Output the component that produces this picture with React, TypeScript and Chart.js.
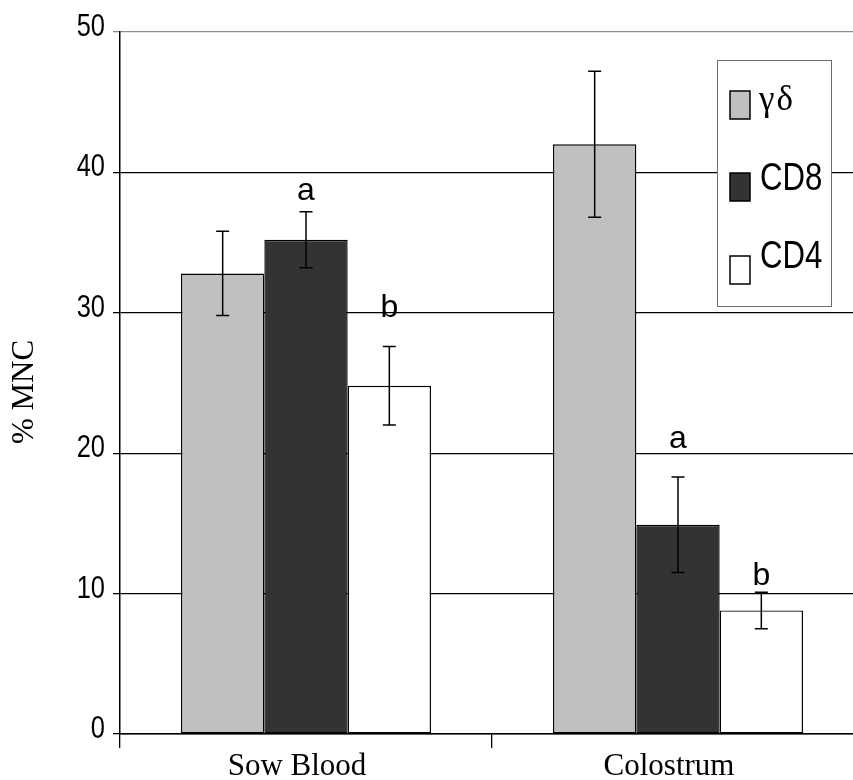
import React, { useEffect, useRef } from 'react';
import { Chart, registerables } from 'chart.js';

Chart.register(...registerables);

// Groups and cell types
const categories = ['Sow Blood', 'Colostrum'];
const seriesNames = ['γδ', 'CD8', 'CD4'];

// Mean % of mononuclear cells and their error (±)
const gammaDelta = [32.8, 42.0];
const cd8 = [35.2, 14.9];
const cd4 = [24.8, 8.8];
const gammaDeltaErr = [3.0, 5.2];
const cd8Err = [2.0, 3.4];
const cd4Err = [2.8, 1.3];

// Value axis ticks
const yTicks = [0, 10, 20, 30, 40, 50];
const yTitle = '% MNC';

// Significance letters: series index, group index, letter, baseline value
const sigSeries = [1, 2, 1, 2];
const sigGroup = [0, 0, 1, 1];
const sigText = ['a', 'b', 'a', 'b'];
const sigAt = [38.0, 29.7, 20.4, 10.6];

const fills = ['#c0c0c0', '#333333', '#ffffff'];
const SANS = "'Liberation Sans', Arial, sans-serif";
const SERIF = "'Liberation Serif', 'Times New Roman', serif";

const errors = [gammaDeltaErr, cd8Err, cd4Err];

// Draws text squeezed horizontally, like a narrow sans face
function narrowText(ctx: any, text: string, x: number, y: number, size: number, align: string, squeeze: number) {
  ctx.save();
  ctx.translate(x, y);
  ctx.scale(squeeze, 1);
  ctx.font = `${size}px ${SANS}`;
  ctx.textAlign = align;
  ctx.textBaseline = 'alphabetic';
  ctx.fillText(text, 0, 0);
  ctx.restore();
}

const axisTextPlugin = {
  id: 'axisText',
  afterDraw(chart: any) {
    const { ctx } = chart;
    const y = chart.scales.y;
    ctx.save();
    ctx.fillStyle = '#000';
    yTicks.forEach((v) => {
      narrowText(ctx, String(v), 105, y.getPixelForValue(v) + 4, 31, 'right', 0.82);
    });
    ctx.translate(25, 392);
    ctx.rotate(-Math.PI / 2);
    ctx.font = `31px ${SERIF}`;
    ctx.textAlign = 'center';
    ctx.textBaseline = 'middle';
    ctx.fillText(yTitle, 0, 0);
    ctx.restore();
  },
};

const errorBarPlugin = {
  id: 'errorBars',
  afterDatasetsDraw(chart: any) {
    const { ctx } = chart;
    const y = chart.scales.y;
    ctx.save();
    ctx.strokeStyle = '#000';
    ctx.lineWidth = 1.5;
    chart.data.datasets.forEach((ds: any, i: number) => {
      const meta = chart.getDatasetMeta(i);
      meta.data.forEach((bar: any, j: number) => {
        const v = ds.data[j];
        const e = errors[i][j];
        const top = y.getPixelForValue(v + e);
        const bot = y.getPixelForValue(v - e);
        const x = bar.x;
        const cap = 6.5;
        ctx.beginPath();
        ctx.moveTo(x, top);
        ctx.lineTo(x, bot);
        ctx.moveTo(x - cap, top);
        ctx.lineTo(x + cap, top);
        ctx.moveTo(x - cap, bot);
        ctx.lineTo(x + cap, bot);
        ctx.stroke();
      });
    });
    // significance letters above bars
    ctx.fillStyle = '#000';
    ctx.font = `32px ${SANS}`;
    ctx.textAlign = 'center';
    ctx.textBaseline = 'alphabetic';
    sigText.forEach((t, k) => {
      const bar = chart.getDatasetMeta(sigSeries[k]).data[sigGroup[k]];
      ctx.fillText(t, bar.x, y.getPixelForValue(sigAt[k]));
    });
    ctx.restore();
  },
};

const legendBoxPlugin = {
  id: 'legendBox',
  afterDraw(chart: any) {
    const { ctx } = chart;
    ctx.save();
    const bx = 717, by = 60, bw = 114, bh = 246;
    ctx.fillStyle = '#fff';
    ctx.fillRect(bx, by, bw, bh);
    ctx.strokeStyle = '#6e6e6e';
    ctx.lineWidth = 1;
    ctx.strokeRect(bx + 0.5, by + 0.5, bw, bh);
    const rowTop = [91, 173, 256];
    const baselines = [110, 190, 268];
    seriesNames.forEach((name, i) => {
      ctx.fillStyle = fills[i];
      ctx.fillRect(730, rowTop[i], 20, 28);
      ctx.strokeStyle = '#000';
      ctx.lineWidth = 1.5;
      ctx.strokeRect(730, rowTop[i], 20, 28);
      ctx.fillStyle = '#000';
      if (i === 0) {
        ctx.font = `35px ${SERIF}`;
        ctx.textAlign = 'left';
        ctx.textBaseline = 'alphabetic';
        (ctx as any).letterSpacing = '2px';
        ctx.fillText(name, 759, baselines[i]);
        (ctx as any).letterSpacing = '0px';
      } else {
        narrowText(ctx, name, 760, baselines[i], 38, 'left', 0.82);
      }
    });
    ctx.restore();
  },
};

export default function App() {
  const ref = useRef<HTMLCanvasElement | null>(null);

  useEffect(() => {
    if (!ref.current) return;
    const chart = new Chart(ref.current, {
      type: 'bar',
      data: {
        labels: categories,
        datasets: [
          { label: seriesNames[0], data: gammaDelta, backgroundColor: fills[0] },
          { label: seriesNames[1], data: cd8, backgroundColor: fills[1] },
          { label: seriesNames[2], data: cd4, backgroundColor: fills[2] },
        ].map((d) => ({
          ...d,
          borderColor: '#000',
          borderWidth: 1.4,
          borderSkipped: false,
          categoryPercentage: 0.672,
          barPercentage: 1.0,
        })),
      },
      options: {
        animation: false,
        responsive: false,
        maintainAspectRatio: false,
        layout: { padding: { top: 32, left: 0, right: 0, bottom: 0 } },
        plugins: {
          legend: { display: false },
          tooltip: { enabled: false },
        },
        scales: {
          x: {
            type: 'category',
            offset: true,
            grid: {
              offset: true,
              drawOnChartArea: false,
              drawTicks: true,
              tickLength: 14,
              color: '#000',
              lineWidth: 1.3,
            },
            border: { display: true, color: '#000', width: 1.5 },
            ticks: {
              font: { family: SERIF, size: 31 },
              color: '#000',
              padding: 0,
              labelOffset: -9,
              maxRotation: 0,
              autoSkip: false,
            },
            afterFit: (s: any) => {
              s.height = 46;
            },
          },
          y: {
            min: 0,
            max: 50,
            afterBuildTicks: (s: any) => {
              s.ticks = yTicks.map((v) => ({ value: v }));
            },
            ticks: { display: false },
            grid: {
              color: (c: any) => (c.tick && c.tick.value === 50 ? '#8c8c8c' : '#000'),
              lineWidth: 1.3,
              tickLength: 7,
              drawTicks: true,
            },
            border: { display: true, color: '#000', width: 1.5 },
            title: { display: false },
            afterFit: (s: any) => {
              s.width = 120;
            },
          },
        },
      } as any,
      plugins: [errorBarPlugin, legendBoxPlugin, axisTextPlugin],
    });
    return () => chart.destroy();
  }, []);

  return (
    <div
      style={{
        position: 'fixed',
        left: 0,
        top: 0,
        width: 853,
        height: 780,
        overflow: 'hidden',
        background: '#fff',
      }}
    >
      <canvas ref={ref} width={864} height={780} style={{ display: 'block', width: 864, height: 780 }} />
    </div>
  );
}
